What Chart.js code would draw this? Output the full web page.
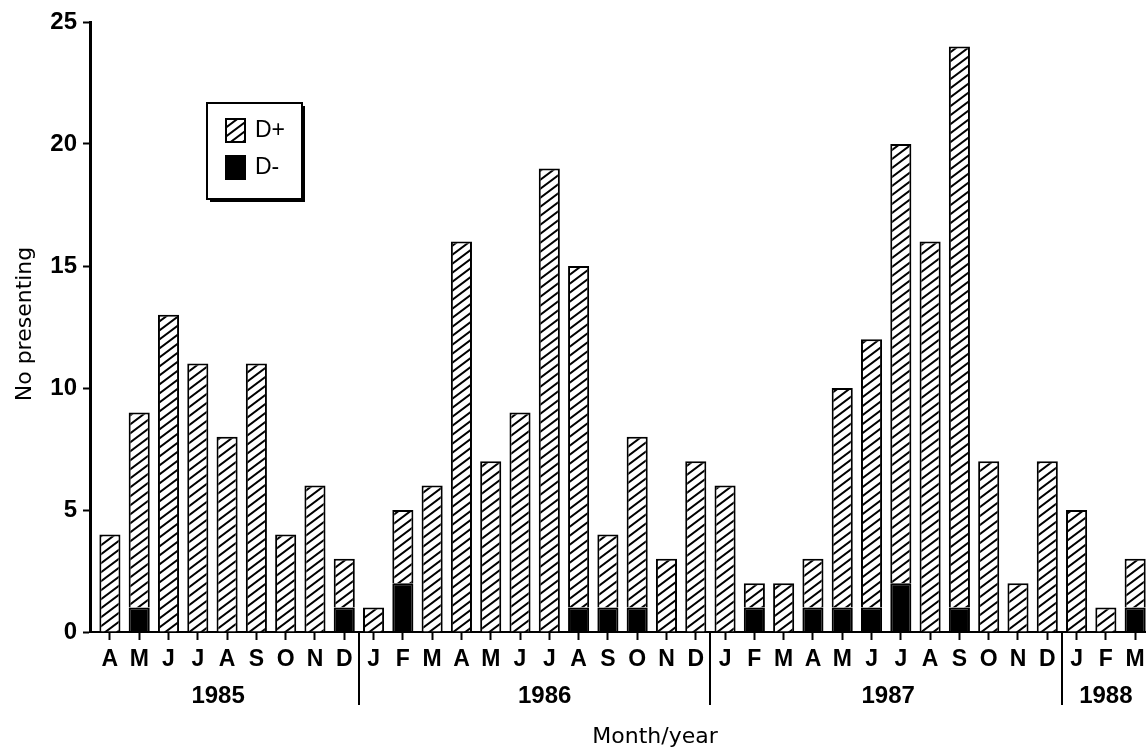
<!DOCTYPE html>
<html>
<head>
<meta charset="utf-8">
<title>No presenting by month</title>
<script src="https://cdn.jsdelivr.net/npm/chart.js@4.4.1/dist/chart.umd.min.js"></script>
<style>
  html, body { margin: 0; padding: 0; background: #fff; overflow: hidden; }
  canvas { display: block; }
</style>
</head>
<body>
<canvas id="chart" width="1146" height="751"></canvas>
<script>
// April 1985 .. March 1988, one bar per month
const monthLabels = [
    'A', 'M', 'J', 'J', 'A', 'S', 'O', 'N', 'D',
    'J', 'F', 'M', 'A', 'M', 'J', 'J', 'A', 'S', 'O', 'N', 'D',
    'J', 'F', 'M', 'A', 'M', 'J', 'J', 'A', 'S', 'O', 'N', 'D',
    'J', 'F', 'M'
];
const years = ['1985', '1986', '1987', '1988'];
const monthsPerYear = [9, 12, 12, 3];

const dPlus = [
    4, 8, 13, 11, 8, 11, 4, 6, 2,
    1, 3, 6, 16, 7, 9, 19, 14, 3, 7, 3, 7,
    6, 1, 2, 2, 9, 11, 18, 16, 23, 7, 2, 7,
    5, 1, 2
];
const dMinus = [
    0, 1, 0, 0, 0, 0, 0, 0, 1,
    0, 2, 0, 0, 0, 0, 0, 1, 1, 1, 0, 0,
    0, 1, 0, 1, 1, 1, 2, 0, 1, 0, 0, 0,
    0, 0, 1
];

const yMax = 25;
const yStep = 5;

// year labels sit a little off-centre in the original
const yearNudge = [-9, 10, 2, 0];

Chart.defaults.font.family = '"Liberation Sans", Arial, sans-serif';
Chart.defaults.color = '#000';

// "/" hatching, a bit flatter than 45 degrees like the print
function makeHatch() {
    const w = 12, h = 9;
    const c = document.createElement('canvas');
    c.width = w;
    c.height = h;
    const g = c.getContext('2d');
    g.fillStyle = '#fff';
    g.fillRect(0, 0, w, h);
    g.strokeStyle = '#000';
    g.lineWidth = 2;
    g.beginPath();
    for (const dx of [-w, 0, w]) {
        g.moveTo(dx - w, 2 * h);
        g.lineTo(dx + 2 * w, -h);
    }
    g.stroke();
    return g.createPattern(c, 'repeat');
}

const hatch = makeHatch();

const decorations = {
    id: 'decorations',
    afterDraw(chart) {
        const { ctx, chartArea, scales: { x } } = chart;
        ctx.save();
        ctx.fillStyle = '#000';
        ctx.strokeStyle = '#000';
        ctx.lineWidth = 2;

        // year labels + separators between years
        ctx.font = 'bold 24px "Liberation Sans"';
        ctx.textAlign = 'center';
        ctx.textBaseline = 'middle';
        let start = 0;
        monthsPerYear.forEach((n, k) => {
            const mid = x.getPixelForValue(start + (n - 1) / 2) + yearNudge[k];
            ctx.fillText(years[k], mid, 696);
            if (k < years.length - 1) {
                const sx = Math.round(x.getPixelForValue(start + n - 0.5));
                ctx.beginPath();
                ctx.moveTo(sx, chartArea.bottom);
                ctx.lineTo(sx, 705);
                ctx.stroke();
            }
            start += n;
        });

        // axis titles
        ctx.font = '22px "DejaVu Sans"';
        ctx.fillText('Month/year', 655, 737);
        ctx.save();
        ctx.translate(25, 324);
        ctx.rotate(-Math.PI / 2);
        ctx.fillText('No presenting', 0, 0);
        ctx.restore();

        // boxed legend with drop shadow
        const lx = 207, ly = 103, lw = 95, lh = 96;
        ctx.fillRect(lx + 3, ly + 3, lw, lh);
        ctx.fillStyle = '#fff';
        ctx.fillRect(lx, ly, lw, lh);
        ctx.strokeRect(lx, ly, lw, lh);
        const items = [chart.data.datasets[1], chart.data.datasets[0]];
        ctx.font = '23px "Liberation Sans"';
        ctx.textAlign = 'left';
        items.forEach((ds, i) => {
            const sy = 118 + i * 37;
            ctx.fillStyle = ds.backgroundColor;
            ctx.fillRect(225, sy, 21, 25);
            ctx.strokeRect(226, sy + 1, 19, 23);
            ctx.fillStyle = '#000';
            ctx.fillText(ds.label, 255, sy + 13);
        });
        ctx.restore();
    }
};

new Chart(document.getElementById('chart'), {
    type: 'bar',
    data: {
        datasets: [
            {
                label: 'D-',
                data: dMinus.map((v, i) => ({ x: i, y: v })),
                backgroundColor: '#000',
                borderColor: '#000',
                borderWidth: 2
            },
            {
                label: 'D+',
                data: dPlus.map((v, i) => ({ x: i, y: v })),
                backgroundColor: hatch,
                borderColor: '#000',
                borderWidth: 2
            }
        ]
    },
    options: {
        responsive: false,
        animation: false,
        events: [],
        layout: { padding: { top: 22, left: 0, right: 0, bottom: 0 } },
        datasets: { bar: { barPercentage: 0.72, categoryPercentage: 1 } },
        plugins: {
            legend: { display: false },
            tooltip: { enabled: false }
        },
        scales: {
            x: {
                type: 'linear',
                stacked: true,
                offset: false,
                min: -0.68,
                max: 35.37,
                grid: { offset: false, drawOnChartArea: false, tickLength: 8, tickWidth: 2, tickColor: '#000', color: '#000' },
                border: { display: true, color: '#000', width: 2 },
                ticks: {
                    stepSize: 1,
                    autoSkip: false,
                    maxRotation: 0,
                    includeBounds: false,
                    maxTicksLimit: 100,
                    padding: 6,
                    font: { size: 23, weight: 'bold' },
                    callback: v => monthLabels[v] ?? ''
                },
                afterFit(s) {
                    s.height = 751 - 632;
                    s.paddingLeft = 0;
                    s.paddingRight = 0;
                }
            },
            y: {
                stacked: true,
                min: 0,
                max: yMax,
                grid: { drawOnChartArea: false, tickLength: 7, tickWidth: 2, tickColor: '#000', color: '#000' },
                border: { display: true, color: '#000', width: 3 },
                ticks: {
                    stepSize: yStep,
                    padding: 6,
                    font: { size: 24, weight: 'bold' }
                },
                afterFit(s) {
                    s.width = 90;
                    s.paddingTop = 0;
                    s.paddingBottom = 0;
                }
            }
        }
    },
    plugins: [decorations]
});
</script>
</body>
</html>
